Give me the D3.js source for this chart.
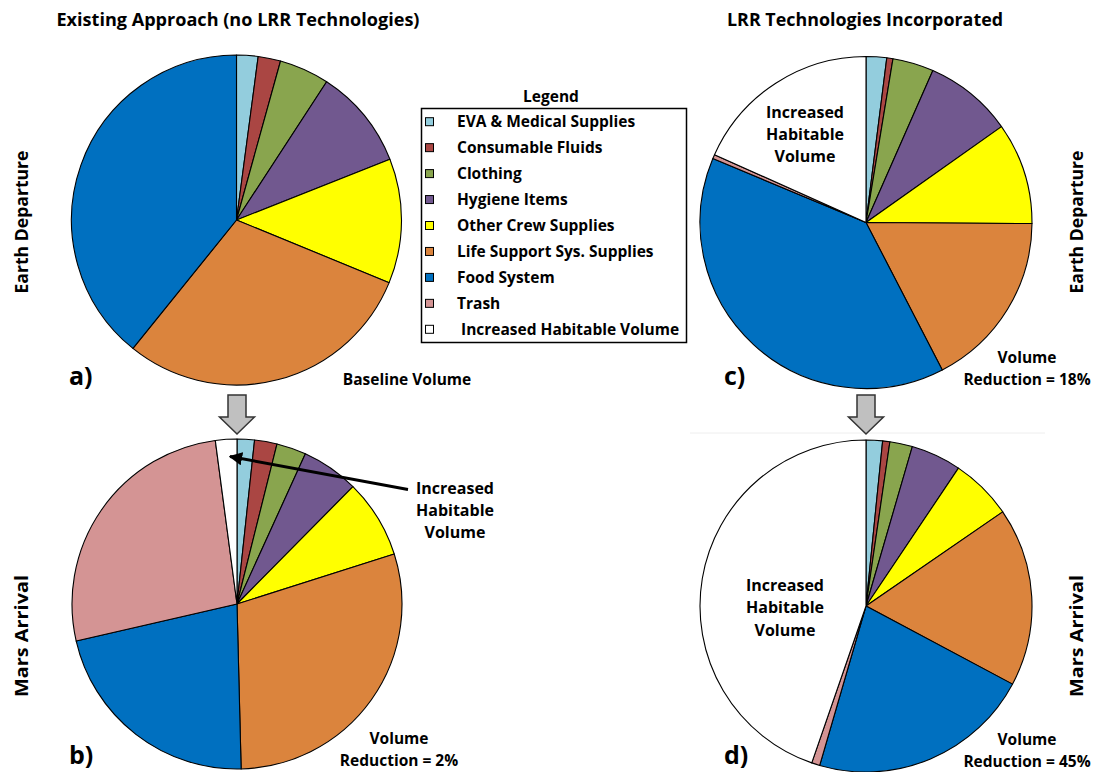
<!DOCTYPE html>
<meta charset="utf-8">
<head>
    <script src="https://d3js.org/d3.v7.min.js"></script>
</head>
<body style="margin:0; background:#fff;">
    <div id="svg_div"></div>
</body>
<style>
    text { font-family: "Open Sans", Lato, sans-serif; font-weight: bold; fill: #000; }
</style>
<script>

    // categories, in pie order (clockwise from 12 o'clock)
    var categories = ["EVA & Medical Supplies", "Consumable Fluids", "Clothing", "Hygiene Items",
        "Other Crew Supplies", "Life Support Sys. Supplies", "Food System", "Trash",
        "Increased Habitable Volume"];

    var cat_colors = ["#93CDDD", "#AA4643", "#89A54E", "#71588F", "#FFFF00",
        "#DB843D", "#0070C0", "#D49494", "#FFFFFF"];

    // share of volume, %
    var existing_departure = [2.1, 2.2, 4.9, 9.8, 12.2, 29.6, 39.2, 0, 0];
    var existing_arrival   = [1.7, 2.2, 2.9, 5.6, 7.7, 29.5, 21.8, 26.5, 2.1];
    var lrr_departure      = [2.0, 0.6, 4.0, 8.6, 9.9, 17.3, 38.9, 0.4, 18.3];
    var lrr_arrival        = [1.6, 0.7, 2.2, 4.9, 6.0, 17.4, 21.7, 0.8, 44.7];

    var column_titles = ["Existing Approach (no LRR Technologies)", "LRR Technologies Incorporated"];
    var row_titles = ["Earth Departure", "Mars Arrival"];

    var width = 1096, height = 772;

    var svg = d3.select("#svg_div").append("svg")
        .attr("width", width)
        .attr("height", height);

    // layout of the four pies
    var pies = [
        { values: existing_departure, cx: 236.5, cy: 220, r: 165, tag: "a)", tx: 69, ty: 385 },
        { values: existing_arrival, cx: 237, cy: 604, r: 165, tag: "b)", tx: 69, ty: 764 },
        { values: lrr_departure, cx: 866, cy: 222.5, r: 166, tag: "c)", tx: 724, ty: 385 },
        { values: lrr_arrival, cx: 866, cy: 606, r: 166, tag: "d)", tx: 724, ty: 764 },
    ];

    // faint separator line above pie d
    svg.append("line")
        .attr("x1", 690).attr("x2", 1045)
        .attr("y1", 433).attr("y2", 433)
        .attr("stroke", "#eeeeee").attr("stroke-width", 1);

    var pie = d3.pie().sort(null).value(function (d) { return d.value; });

    pies.forEach(function (p) {
        var rows = categories.map(function (c, i) { return { key: c, value: p.values[i], color: cat_colors[i] }; });
        var arc = d3.arc().innerRadius(0).outerRadius(p.r);
        svg.append("g")
            .attr("transform", "translate(" + p.cx + "," + p.cy + ")")
            .selectAll("path")
            .data(pie(rows).filter(function (d) { return d.data.value > 0; }))
            .enter()
            .append("path")
            .attr("d", arc)
            .attr("fill", function (d) { return d.data.color; })
            .attr("stroke", "#000")
            .attr("stroke-width", 1.1)
            .attr("stroke-linejoin", "round");

        svg.append("text")
            .attr("x", p.tx).attr("y", p.ty)
            .style("font-size", "25px")
            .text(p.tag);
    });

    // column titles
    svg.append("text").attr("x", 238).attr("y", 26).attr("text-anchor", "middle")
        .attr("textLength", 363).attr("lengthAdjust", "spacingAndGlyphs")
        .style("font-size", "17px").text(column_titles[0]);
    svg.append("text").attr("x", 865).attr("y", 26).attr("text-anchor", "middle")
        .attr("textLength", 276).attr("lengthAdjust", "spacingAndGlyphs")
        .style("font-size", "17px").text(column_titles[1]);

    // row titles, rotated, both sides
    function side_label(x, y, txt, len) {
        svg.append("text")
            .attr("transform", "translate(" + x + "," + y + ") rotate(-90)")
            .attr("text-anchor", "middle")
            .attr("textLength", len).attr("lengthAdjust", "spacingAndGlyphs")
            .style("font-size", "17px")
            .text(txt);
    }
    side_label(28, 222, row_titles[0], 143);
    side_label(1083, 222, row_titles[0], 143);
    side_label(28, 636, row_titles[1], 122);
    side_label(1083, 636, row_titles[1], 122);

    // multi-line labels
    function multi_label(x, y, lines, size, gap) {
        var t = svg.append("text").attr("text-anchor", "middle").style("font-size", size + "px");
        lines.forEach(function (l, i) {
            t.append("tspan").attr("x", x).attr("y", y + i * gap).text(l);
        });
    }
    multi_label(407, 385, ["Baseline Volume"], 15.5, 0);
    multi_label(399, 744, ["Volume", "Reduction = 2%"], 15.5, 22);
    multi_label(1027, 363, ["Volume", "Reduction = 18%"], 15.5, 22);
    multi_label(1027, 745, ["Volume", "Reduction = 45%"], 15.5, 22);
    multi_label(805, 118, ["Increased", "Habitable", "Volume"], 16, 22);
    multi_label(785, 591, ["Increased", "Habitable", "Volume"], 16, 22.3);
    multi_label(455, 494, ["Increased", "Habitable", "Volume"], 16, 22.2);

    // pointer to the small white slice in b)
    svg.append("defs").append("marker")
        .attr("id", "head")
        .attr("viewBox", "0 0 10 10")
        .attr("refX", 9).attr("refY", 5)
        .attr("markerWidth", 4.5).attr("markerHeight", 4.5)
        .attr("orient", "auto")
        .append("path").attr("d", "M0,0 L10,5 L0,10 Z").attr("fill", "#000");
    svg.append("line")
        .attr("x1", 408).attr("y1", 489.5)
        .attr("x2", 230).attr("y2", 456.5)
        .attr("stroke", "#000").attr("stroke-width", 3)
        .attr("marker-end", "url(#head)");

    // gray block arrows between rows
    function block_arrow(cx, top) {
        var sw = 9, hw = 17.5, sh = 22, tip = 39;
        var d = "M" + (cx - sw) + "," + top + " L" + (cx + sw) + "," + top +
            " L" + (cx + sw) + "," + (top + sh) + " L" + (cx + hw) + "," + (top + sh) +
            " L" + cx + "," + (top + tip) + " L" + (cx - hw) + "," + (top + sh) +
            " L" + (cx - sw) + "," + (top + sh) + " Z";
        svg.append("path").attr("d", d)
            .attr("fill", "#C0C0C0").attr("stroke", "#333").attr("stroke-width", 1.5)
            .attr("stroke-linejoin", "miter");
    }
    block_arrow(237, 395);
    block_arrow(866, 395);

    // legend
    var legend = svg.append("g");
    legend.append("text").attr("x", 551).attr("y", 102).attr("text-anchor", "middle")
        .style("font-size", "15.5px").text("Legend");
    legend.append("rect")
        .attr("x", 421.5).attr("y", 108.5).attr("width", 265).attr("height", 234)
        .attr("fill", "#fff").attr("stroke", "#000").attr("stroke-width", 1.5);
    var ly = d3.scaleLinear().domain([0, categories.length - 1]).range([121.7, 329.3]);
    categories.forEach(function (c, i) {
        legend.append("rect")
            .attr("x", 425.5).attr("y", ly(i) - 4).attr("width", 8).attr("height", 8)
            .attr("fill", cat_colors[i]).attr("stroke", "#000").attr("stroke-width", 1);
        legend.append("text")
            .attr("x", i === categories.length - 1 ? 461 : 457)
            .attr("y", ly(i) + 5.5)
            .style("font-size", "15.5px")
            .text(c);
    });

</script>
